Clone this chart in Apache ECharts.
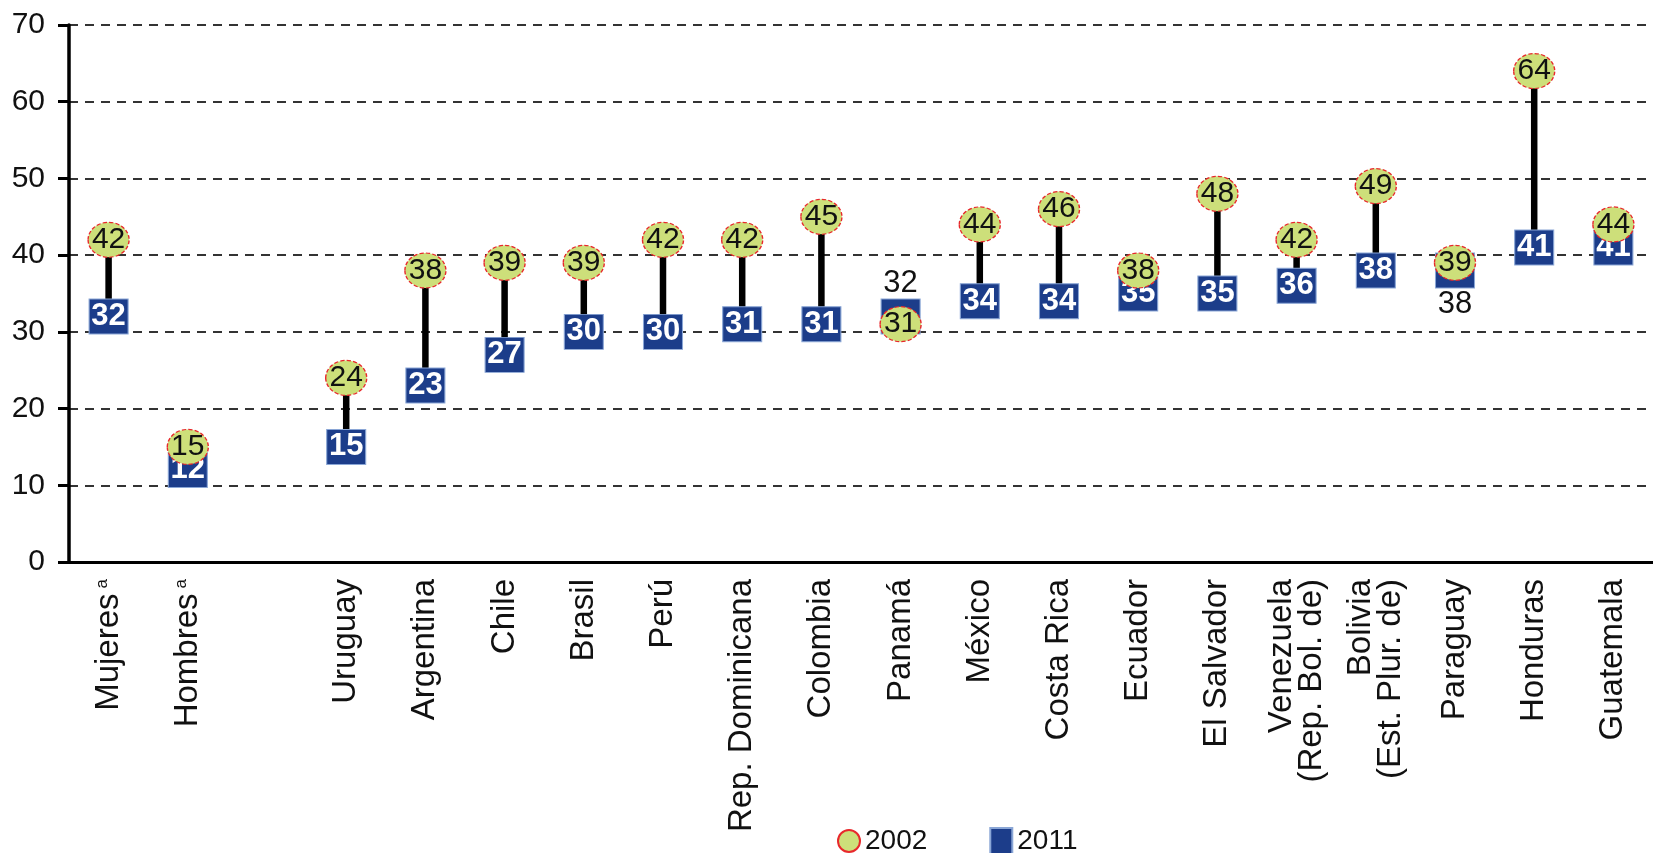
<!DOCTYPE html>
<html>
<head>
<meta charset="utf-8">
<script src="https://cdn.jsdelivr.net/npm/echarts@6/dist/echarts.min.js"></script>
<style>
html, body { margin: 0; padding: 0; background: #fff; }
#chart { width: 1653px; height: 853px; }
</style>
</head>
<body>
<div id="chart"></div>
<script>
// datos
const categories = ['Mujeres', 'Hombres', '', 'Uruguay', 'Argentina', 'Chile', 'Brasil', 'Perú',
  'Rep. Dominicana', 'Colombia', 'Panamá', 'México', 'Costa Rica', 'Ecuador', 'El Salvador',
  'Venezuela\n(Rep. Bol. de)', 'Bolivia\n(Est. Plur. de)', 'Paraguay', 'Honduras', 'Guatemala'];
const values2002 = [42, 15, null, 24, 38, 39, 39, 42, 42, 45, 31, 44, 46, 38, 48, 42, 49, 39, 64, 44];
const values2011 = [32, 12, null, 15, 23, 27, 30, 30, 31, 31, 32, 34, 34, 35, 35, 36, 38, 38, 41, 41];
const footnoted = ['Mujeres', 'Hombres'];
const labelAbove2011 = ['Panamá'];
const labelBelow2011 = ['Paraguay'];

const FONT = "'Liberation Sans Narrow', 'Arial Narrow', 'Liberation Sans', Arial, sans-serif";
const ELLIPSE = 'path://M0 50 A50 50 0 1 1 100 50 A50 50 0 1 1 0 50 Z';

const data2002 = values2002.map(v => (v == null ? '-' : v));
const data2011 = values2011.map((v, i) => {
  if (v == null) return '-';
  const name = categories[i];
  if (labelAbove2011.includes(name)) {
    return { value: v, label: { position: 'top', distance: 0, color: '#111', fontWeight: 'normal' } };
  }
  if (labelBelow2011.includes(name)) {
    return { value: v, label: { position: 'bottom', distance: 0, color: '#111', fontWeight: 'normal' } };
  }
  return v;
});
const stems = [];
categories.forEach((c, i) => {
  if (values2002[i] != null) stems.push([i, values2002[i], values2011[i]]);
});

const chart = echarts.init(document.getElementById('chart'));
chart.setOption({
  animation: false,
  textStyle: { fontFamily: FONT },
  grid: { left: 69, right: -14, top: 25, bottom: 291, containLabel: false },
  legend: {
    left: 832,
    top: 822,
    itemGap: 62,
    itemWidth: 22,
    itemHeight: 26,
    textStyle: { fontSize: 28, color: '#111', fontFamily: "'Liberation Sans', Arial, sans-serif" },
    data: [
      { name: '2002', icon: ELLIPSE },
      { name: '2011', icon: 'rect' }
    ]
  },
  xAxis: {
    type: 'category',
    data: categories,
    boundaryGap: true,
    axisLine: { lineStyle: { color: '#000', width: 3 } },
    axisTick: { length: 11, lineStyle: { color: '#000', width: 2.5 }, interval: 0 },
    axisLabel: {
      interval: 0,
      rotate: 90,
      margin: 17,
      fontSize: 33,
      lineHeight: 30,
      color: '#111',
      formatter: function (v) {
        return footnoted.includes(v) ? '{n|' + v + '}{s|a}' : v;
      },
      rich: {
        n: { fontSize: 33, fontFamily: FONT, color: '#111' },
        s: { fontSize: 17, fontFamily: FONT, color: '#111', verticalAlign: 'top', padding: [0, 0, 0, 5] }
      }
    },
    splitLine: { show: false }
  },
  yAxis: {
    type: 'value',
    min: 0,
    max: 70,
    interval: 10,
    axisLine: { show: true, lineStyle: { color: '#000', width: 3.5 } },
    axisTick: { show: true, length: 11, lineStyle: { color: '#000', width: 3 } },
    axisLabel: { fontSize: 30, color: '#111', margin: 24 },
    splitLine: { lineStyle: { color: '#333', width: 2, type: [9, 7] } }
  },
  series: [
    {
      type: 'custom',
      z: 1,
      silent: true,
      encode: { x: 0, y: [1, 2] },
      data: stems,
      renderItem: function (params, api) {
        const a = api.coord([api.value(0), api.value(1)]);
        const b = api.coord([api.value(0), api.value(2)]);
        return {
          type: 'line',
          shape: { x1: a[0], y1: a[1], x2: b[0], y2: b[1] },
          style: { stroke: '#000', lineWidth: 6.5 }
        };
      }
    },
    {
      name: '2011',
      type: 'scatter',
      z: 2,
      symbol: 'rect',
      symbolSize: [39, 35],
      itemStyle: { color: '#1c3d8a', opacity: 1, borderColor: '#8aa6d6', borderWidth: 1 },
      label: {
        show: true,
        position: 'inside',
        color: '#fff',
        fontWeight: 'bold',
        fontSize: 31
      },
      data: data2011
    },
    {
      name: '2002',
      type: 'scatter',
      z: 3,
      symbol: ELLIPSE,
      symbolSize: [41, 35],
      itemStyle: { color: '#cddf7a', opacity: 1, borderColor: '#e8282c', borderWidth: 1.3, borderType: [4, 2] },
      label: {
        show: true,
        position: 'inside',
        color: '#111',
        fontSize: 30
      },
      data: data2002
    }
  ]
});
window.addEventListener('resize', function () { chart.resize(); });
</script>
</body>
</html>
